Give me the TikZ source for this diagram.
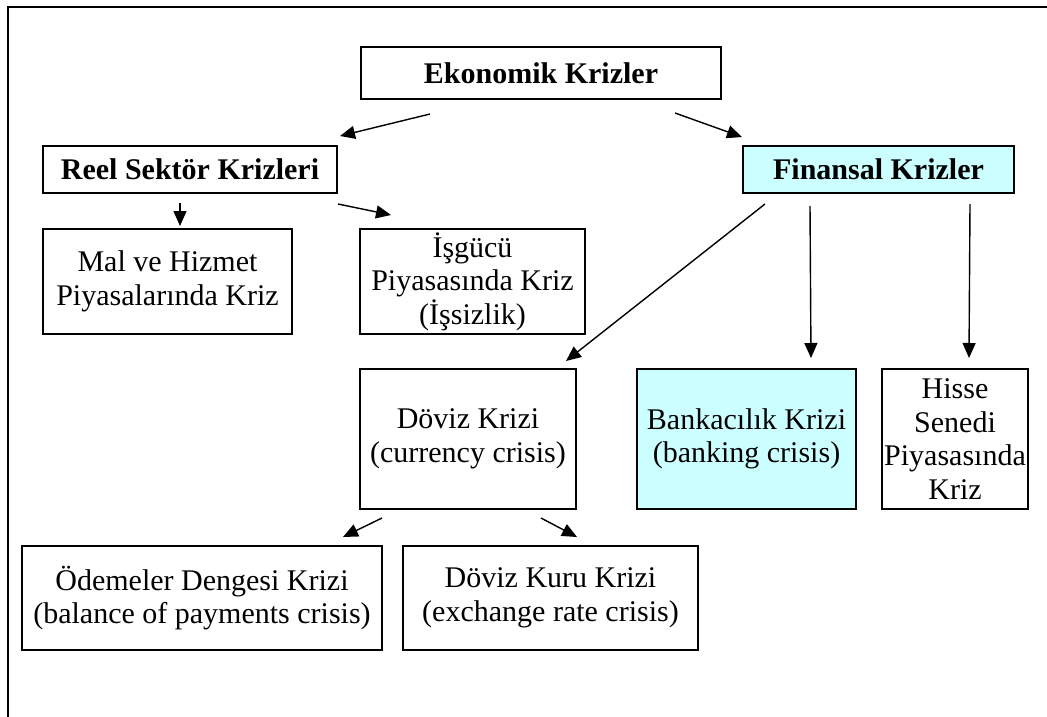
\documentclass[tikz,border=0pt]{standalone}
\usepackage{fontspec}
\setmainfont{Liberation Serif}
\usetikzlibrary{calc,arrows.meta}

\definecolor{crisisCyan}{HTML}{CCFFFF}

\begin{document}
\begin{tikzpicture}[x=1pt, y=-1pt]

% ---------------- styles ----------------
\tikzset{
  crisisBox/.style   ={draw, line width=2pt, inner sep=0pt, align=center,
                       font=\fontsize{30}{33.5}\selectfont},
  crisisHead/.style  ={crisisBox, font=\fontsize{30}{33.5}\selectfont\bfseries},
  crisisFill/.style  ={fill=crisisCyan},
  crisisArrow/.style ={-{Triangle[length=15pt, width=13pt]}, line width=1.4pt},
  crisisFrame/.style ={line width=2pt}
}

% ---------------- page (1px = 1pt) ----------------
\useasboundingbox (0,0) rectangle (1047,717);
\draw[crisisFrame] (1047,6.7) -- (7.7,6.7) -- (7.7,717);

% ---------------- level 1 and 2 ----------------
\node[crisisHead, minimum width=360pt, minimum height=52pt] (ekonomik) at (541,73) {Ekonomik Krizler};
\node[crisisHead, minimum width=294pt, minimum height=47pt] (reel) at (190,169.5) {Reel Sektör Krizleri};
\node[crisisHead, crisisFill, minimum width=271pt, minimum height=47pt] (finansal) at (878.5,169.5) {Finansal Krizler};

% ---------------- real sector ----------------
\node[crisisBox, minimum width=249pt, minimum height=105pt] (mal) at (167.5,281.5) {Mal ve Hizmet\\Piyasalarında Kriz};
\node[crisisBox, minimum width=225pt, minimum height=105pt] (isgucu) at (472.5,281.5) {İşgücü\\Piyasasında Kriz\\(İşsizlik)};

% ---------------- financial ----------------
\node[crisisBox, minimum width=216pt, minimum height=140pt] (doviz) at (468,439) {Döviz Krizi\\(currency crisis)};
\node[crisisBox, crisisFill, minimum width=219pt, minimum height=140pt] (banka) at (746.5,439) {Bankacılık Krizi\\(banking crisis)};
\node[crisisBox, minimum width=146pt, minimum height=140pt] (hisse) at (955,439) {Hisse\\Senedi\\Piyasasında\\Kriz};

% ---------------- currency ----------------
\node[crisisBox, minimum width=360pt, minimum height=104pt] (odemeler) at (202,598) {Ödemeler Dengesi Krizi\\(balance of payments crisis)};
\node[crisisBox, minimum width=295pt, minimum height=104pt] (kur) at (550.5,598) {Döviz Kuru Krizi\\(exchange rate crisis)};

% ---------------- arrows ----------------
\draw[crisisArrow] ($(ekonomik.south)+(-111,14)$) -- ($(reel.north east)+(2,-9)$);
\draw[crisisArrow] ($(ekonomik.south)+(134,13)$) -- ($(finansal.north west)+(0,-8)$);
\draw[crisisArrow] ($(reel.south)+(-10,9)$) -- ($(mal.north)+(12.5,-2)$);
\draw[crisisArrow] ($(reel.south east)+(0,10)$) -- ($(isgucu.north west)+(32,-13)$);
\draw[crisisArrow] ($(finansal.south west)+(23,10)$) -- ($(doviz.north east)+(-11,-7)$);
\draw[crisisArrow] ($(finansal.south west)+(68,12)$) -- ($(banka.north)+(64.5,-10)$);
\draw[crisisArrow] ($(finansal.south east)+(-45,10)$) -- ($(hisse.north)+(14,-10)$);
\draw[crisisArrow] ($(doviz.south west)+(23,8)$) -- ($(odemeler.north east)+(-40,-8)$);
\draw[crisisArrow] ($(doviz.south east)+(-36,8)$) -- ($(kur.north west)+(175,-8)$);

\end{tikzpicture}
\end{document}
